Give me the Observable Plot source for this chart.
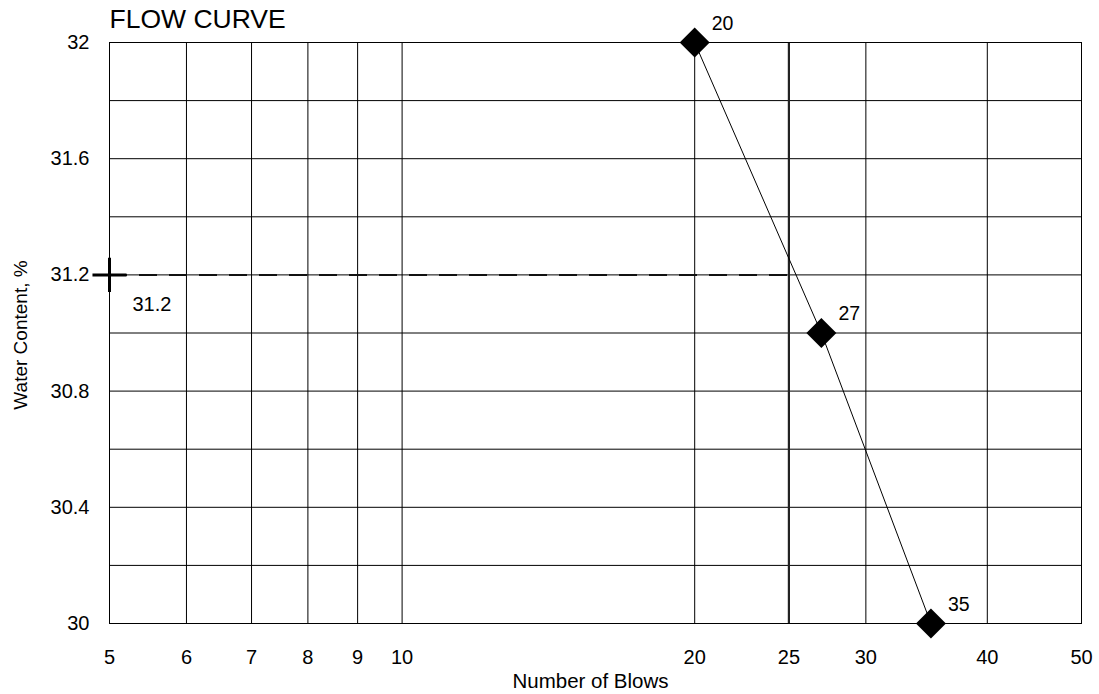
<!DOCTYPE html>
<html>
<head>
<meta charset="utf-8">
<script src="https://cdn.jsdelivr.net/npm/d3@7"></script>
<script src="https://cdn.jsdelivr.net/npm/@observablehq/plot@0.6"></script>
<style>
  html, body { margin: 0; padding: 0; background: #fff; }
  #chart svg { display: block; }
</style>
</head>
<body>
<div id="chart"></div>
<script>
// Data
const blows = [20, 27, 35];
const waterContent = [32.0, 31.0, 30.0];
const pointLabels = ["20", "27", "35"];
const xTicks = [5, 6, 7, 8, 9, 10, 20, 25, 30, 40, 50];
const xGrid = [6, 7, 8, 9, 10, 20, 30, 40];
const yTicks = [30, 30.4, 30.8, 31.2, 31.6, 32];
const yGrid = [30.2, 30.4, 30.6, 30.8, 31.0, 31.2, 31.4, 31.6, 31.8];
const standardBlows = 25;
const minBlows = 5;
const liquidLimit = 31.2;
const liquidLimitLabel = "31.2";
const title = "FLOW CURVE";
const xLabel = "Number of Blows";
const yLabel = "Water Content, %";

const points = blows.map((b, i) => ({blows: b, w: waterContent[i], label: pointLabels[i]}));
const font = "'Liberation Sans', Arial, sans-serif";

const chart = Plot.plot({
  width: 1099,
  height: 694,
  marginLeft: 109,
  marginRight: 18,
  marginTop: 42,
  marginBottom: 71,
  style: {fontFamily: font, fontSize: "20px", color: "#000", background: "#fff"},
  x: {type: "log", domain: [5, 50]},
  y: {domain: [30, 32]},
  marks: [
    Plot.ruleX(xGrid, {stroke: "#000", strokeWidth: 1}),
    Plot.ruleY(yGrid, {stroke: "#000", strokeWidth: 1}),
    Plot.ruleX([standardBlows], {stroke: "#222", strokeWidth: 2.2}),
    Plot.ruleY([liquidLimit], {x1: minBlows, x2: standardBlows, stroke: "#111", strokeWidth: 2, strokeDasharray: "18,12"}),
    Plot.frame({stroke: "#000", strokeWidth: 1}),
    Plot.axisX(xTicks, {tickSize: 0, tickPadding: 26, fontSize: 20, tickFormat: d => String(d), label: null}),
    Plot.axisY(yTicks, {tickSize: 0, tickPadding: 20, fontSize: 20, tickFormat: d => String(d), label: null}),
    Plot.line(points, {x: "blows", y: "w", stroke: "#000", strokeWidth: 1}),
    Plot.dot(points, {x: "blows", y: "w", symbol: "diamond2", r: 13.5, fill: "#000", stroke: "none"}),
    Plot.text(points, {x: "blows", y: "w", text: "label", textAnchor: "start", lineAnchor: "bottom", dx: 17, dy: -13, fontSize: 19.5, fill: "#000"}),
    Plot.dot([liquidLimit], {x: minBlows, y: d => d, symbol: "plus", r: 11, stroke: "#000", strokeWidth: 3}),
    Plot.text([liquidLimitLabel], {x: minBlows, y: () => liquidLimit, textAnchor: "start", lineAnchor: "middle", dx: 23, dy: 30, fontSize: 20, fill: "#000"}),
    Plot.text([title], {frameAnchor: "top-left", textAnchor: "start", lineAnchor: "bottom", dy: -15, fontSize: 26.5, fill: "#000"}),
    Plot.text([xLabel], {frameAnchor: "bottom", textAnchor: "middle", lineAnchor: "bottom", dx: -5, dy: 64, fontSize: 20.5, fill: "#000"}),
    Plot.text([yLabel], {frameAnchor: "left", textAnchor: "middle", lineAnchor: "middle", rotate: -90, dx: -89, dy: 2, fontSize: 19, fill: "#000"})
  ]
});
document.getElementById("chart").appendChild(chart);
</script>
</body>
</html>
